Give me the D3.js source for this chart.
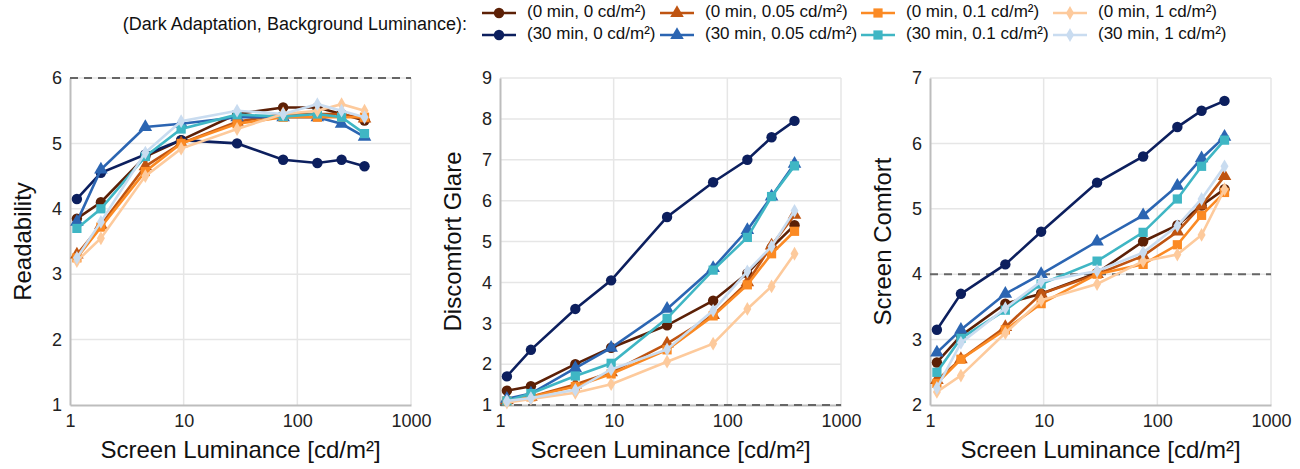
<!DOCTYPE html>
<html><head><meta charset="utf-8">
<script src="https://cdn.jsdelivr.net/npm/d3@7"></script>
<style>
body{margin:0;background:#fff;}
svg{display:block;font-family:"Liberation Sans",Arial,sans-serif;}
</style></head>
<body><svg id="c" width="1300" height="469"></svg>
<script>
// ---------- data ----------
const luminance = [1.15, 1.87, 4.6, 9.5, 29.5, 75, 150, 245, 390];
const seriesNames = ["(0 min, 0 cd/m²)", "(30 min, 0 cd/m²)", "(0 min, 0.05 cd/m²)", "(30 min, 0.05 cd/m²)",
                     "(0 min, 0.1 cd/m²)", "(30 min, 0.1 cd/m²)", "(0 min, 1 cd/m²)", "(30 min, 1 cd/m²)"];
const seriesColors = ["#5c2006", "#0c1f5e", "#bf5411", "#2b65b2", "#fb8a24", "#3fb6c4", "#fdca9c", "#c9dcf0"];
const seriesShapes = ["circle", "circle", "triangle", "triangle", "square", "square", "diamond", "diamond"];

const readability = [
  [3.85, 4.10, 4.80, 5.05, 5.45, 5.55, 5.55, 5.45, 5.35],
  [4.15, 4.55, 4.83, 5.05, 5.00, 4.75, 4.70, 4.75, 4.65],
  [3.30, 3.75, 4.65, 5.00, 5.33, 5.45, 5.45, 5.45, 5.38],
  [3.80, 4.60, 5.25, 5.30, 5.40, 5.40, 5.40, 5.30, 5.10],
  [3.25, 3.72, 4.57, 5.00, 5.30, 5.40, 5.40, 5.40, 5.40],
  [3.70, 4.00, 4.80, 5.22, 5.44, 5.41, 5.45, 5.40, 5.15],
  [3.20, 3.55, 4.50, 4.92, 5.22, 5.45, 5.50, 5.60, 5.50],
  [3.25, 3.80, 4.86, 5.34, 5.50, 5.45, 5.60, 5.50, 5.40]
];
const discomfortGlare = [
  [1.35, 1.46, 2.00, 2.40, 2.95, 3.55, 4.22, 4.85, 5.40],
  [1.70, 2.35, 3.35, 4.05, 5.60, 6.45, 7.00, 7.55, 7.95],
  [1.12, 1.20, 1.50, 1.80, 2.50, 3.20, 4.00, 4.90, 5.65],
  [1.15, 1.28, 1.90, 2.40, 3.35, 4.35, 5.28, 6.10, 6.90],
  [1.10, 1.20, 1.45, 1.76, 2.35, 3.18, 3.94, 4.70, 5.25],
  [1.10, 1.28, 1.71, 2.02, 3.12, 4.30, 5.10, 6.10, 6.85],
  [1.06, 1.15, 1.30, 1.51, 2.06, 2.50, 3.35, 3.90, 4.70],
  [1.10, 1.17, 1.37, 1.87, 2.36, 3.31, 4.27, 4.88, 5.75]
];
const screenComfort = [
  [2.65, 3.06, 3.55, 3.70, 4.02, 4.50, 4.75, 5.05, 5.30],
  [3.15, 3.70, 4.15, 4.65, 5.40, 5.80, 6.25, 6.50, 6.65],
  [2.38, 2.70, 3.19, 3.70, 4.00, 4.28, 4.65, 5.05, 5.50],
  [2.80, 3.15, 3.70, 4.00, 4.50, 4.90, 5.35, 5.77, 6.10],
  [2.33, 2.70, 3.15, 3.55, 4.00, 4.15, 4.45, 4.90, 5.25],
  [2.50, 3.02, 3.45, 3.85, 4.20, 4.64, 5.15, 5.65, 6.05],
  [2.20, 2.45, 3.10, 3.60, 3.85, 4.20, 4.30, 4.60, 5.30],
  [2.26, 2.95, 3.48, 3.89, 4.05, 4.33, 4.74, 5.15, 5.65]
];
const xTicks = [1, 10, 100, 1000];
const xTitle = "Screen Luminance [cd/m²]";
const panelTitles = ["Readability", "Discomfort Glare", "Screen Comfort"];
const panelDomains = [[1, 6], [1, 9], [2, 7]];
const panelRefLines = [6, 1, 4];
const legendTitle = "(Dark Adaptation, Background Luminance):";

// ---------- layout ----------
const svg = d3.select("#c");
const panels = [
  {left: 70, data: readability},
  {left: 500, data: discomfortGlare},
  {left: 930, data: screenComfort}
];
const pw = 341, plotTop = 78, plotBottom = 405;

const symbolFor = {
  circle: d3.symbol().type(d3.symbolCircle).size(85),
  triangle: d3.symbol().type(d3.symbolTriangle).size(80),
  square: d3.symbol().type(d3.symbolSquare).size(85),
  diamond: d3.symbol().type(d3.symbolDiamond).size(55)
};

panels.forEach((p, pi) => {
  const x = d3.scaleLog().domain([1, 1000]).range([p.left, p.left + pw]);
  const dom = panelDomains[pi];
  const y = d3.scaleLinear().domain(dom).range([plotBottom, plotTop]);
  const yTicks = d3.range(dom[0], dom[1] + 1);
  const g = svg.append("g");

  // gridlines
  g.selectAll(".gx").data(xTicks.slice(1)).join("line")
    .attr("x1", d => x(d)).attr("x2", d => x(d)).attr("y1", plotTop).attr("y2", plotBottom)
    .attr("stroke", "#e6e6e6").attr("stroke-width", 1.5);
  g.selectAll(".gy").data(yTicks.slice(1)).join("line")
    .attr("x1", p.left).attr("x2", p.left + pw).attr("y1", d => y(d)).attr("y2", d => y(d))
    .attr("stroke", "#e6e6e6").attr("stroke-width", 1.5);

  // axes
  const ax = g.append("g").attr("transform", `translate(0,${plotBottom})`)
    .call(d3.axisBottom(x).tickValues(xTicks).tickFormat(d3.format("d")).tickSize(0).tickPadding(9));
  const ay = g.append("g").attr("transform", `translate(${p.left},0)`)
    .call(d3.axisLeft(y).tickValues(yTicks).tickFormat(d3.format("d")).tickSize(0).tickPadding(8));
  [ax, ay].forEach(a => {
    a.select(".domain").attr("stroke", "#bdbdbd").attr("stroke-width", 2);
    a.selectAll("text").attr("font-size", 18).attr("fill", "#222").attr("font-family", "Liberation Sans, Arial, sans-serif");
  });

  // reference dashed line
  g.append("line").attr("x1", p.left).attr("x2", p.left + pw)
    .attr("y1", y(panelRefLines[pi])).attr("y2", y(panelRefLines[pi]))
    .attr("stroke", "#666").attr("stroke-width", 2).attr("stroke-dasharray", "8,6");

  // titles
  g.append("text").attr("x", p.left + pw / 2).attr("y", 458).attr("text-anchor", "middle")
    .attr("font-size", 24).attr("fill", "#111").text(xTitle);
  g.append("text").attr("transform", `translate(${p.left - 39},${(plotTop + plotBottom) / 2}) rotate(-90)`)
    .attr("text-anchor", "middle").attr("font-size", 24).attr("fill", "#111").text(panelTitles[pi]);

  // series
  const line = d3.line().x((d, i) => x(luminance[i])).y(d => y(d));
  p.data.forEach((vals, si) => {
    const sg = g.append("g");
    sg.append("path").datum(vals).attr("d", line).attr("fill", "none")
      .attr("stroke", seriesColors[si]).attr("stroke-width", 2.6);
    sg.selectAll("path.m").data(vals).join("path").attr("class", "m")
      .attr("transform", (d, i) => `translate(${x(luminance[i])},${y(d)})`)
      .attr("d", symbolFor[seriesShapes[si]]())
      .attr("fill", seriesColors[si]);
  });
});

// ---------- legend ----------
const colX = [482, 660, 861, 1053];
const rowY = [13, 35];
svg.append("text").attr("x", 467).attr("y", 25).attr("text-anchor", "end")
  .attr("dominant-baseline", "middle").attr("font-size", 18).attr("fill", "#111").text(legendTitle);
seriesNames.forEach((name, si) => {
  const cx = colX[Math.floor(si / 2)], cy = rowY[si % 2];
  const lg = svg.append("g");
  lg.append("line").attr("x1", cx).attr("x2", cx + 34).attr("y1", cy).attr("y2", cy)
    .attr("stroke", seriesColors[si]).attr("stroke-width", 2.6);
  lg.append("path").attr("transform", `translate(${cx + 17},${cy})`)
    .attr("d", symbolFor[seriesShapes[si]]()).attr("fill", seriesColors[si]);
  lg.append("text").attr("x", cx + 45).attr("y", cy).attr("dominant-baseline", "middle")
    .attr("font-size", 17).attr("fill", "#111").text(name);
});
</script>
</body></html>
